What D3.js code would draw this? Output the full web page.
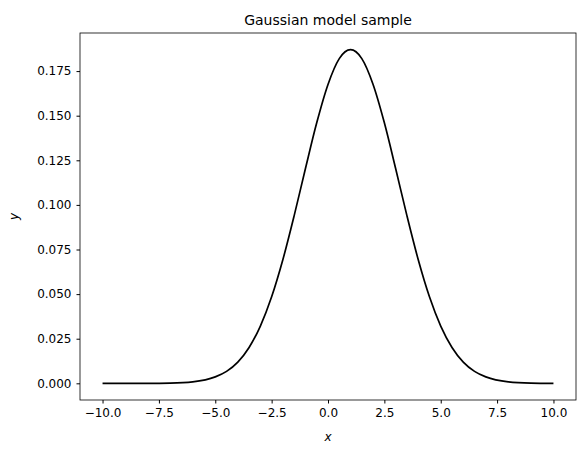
<!DOCTYPE html>
<html><head><meta charset="utf-8">
<script src="https://cdn.jsdelivr.net/npm/d3@7"></script>
<style>body{margin:0;background:#fff}text{font-family:"DejaVu Sans",sans-serif}</style>
</head><body>
<svg id="c" width="585" height="455"></svg>
<script>
const xs = [-10,-9,-8,-7,-6,-5,-4.5,-4,-3.5,-3,-2.5,-2,-1.5,-1,-0.5,0,0.5,1,1.5,2,2.5,3,3.5,4,4.5,5,5.5,6,6.5,7,8,9,10,11,12];
const ys = [0,0.00001,0.00002,0.00016,0.00084,0.0036,0.0067,0.0119,0.0201,0.0321,0.0485,0.0694,0.094,0.1204,0.146,0.1675,0.182,0.187,0.182,0.1675,0.146,0.1204,0.094,0.0694,0.0485,0.0321,0.0201,0.0119,0.0067,0.0036,0.00084,0.00016,0.00002,0.00001,0];
const xTicks = [-10,-7.5,-5,-2.5,0,2.5,5,7.5,10];
const yTicks = [0,0.025,0.05,0.075,0.1,0.125,0.15,0.175];
const pts = xs.map((x,i)=>[x,ys[i]]).filter(p=>p[0]<=10);
const L=80,R=576,T=33,B=400;
const svg=d3.select("#c");
const x=d3.scaleLinear().domain([-11,11]).range([L,R]);
const y=d3.scaleLinear().domain([-0.00935,0.19635]).range([B,T]);
svg.append("g").attr("transform",`translate(0,${B})`)
 .call(d3.axisBottom(x).tickValues(xTicks).tickFormat(d3.format(".1f")).tickSizeOuter(0).tickSize(3.5).tickPadding(5))
 .call(g=>g.selectAll("text").attr("font-size",12).attr("fill","#000").style("font-family","DejaVu Sans"));
svg.append("g").attr("transform",`translate(${L},0)`)
 .call(d3.axisLeft(y).tickValues(yTicks).tickFormat(d3.format(".3f")).tickSizeOuter(0).tickSize(3.5).tickPadding(5))
 .call(g=>g.selectAll("text").attr("font-size",12).attr("fill","#000").style("font-family","DejaVu Sans"));
svg.selectAll(".domain").remove();
svg.append("rect").attr("x",L).attr("y",T).attr("width",R-L).attr("height",B-T).attr("fill","none").attr("stroke","#000").attr("stroke-width",0.8);
svg.append("path").datum(pts).attr("fill","none").attr("stroke","#000").attr("stroke-width",1.7)
 .attr("d",d3.line().x(d=>x(d[0])).y(d=>y(d[1])).curve(d3.curveMonotoneX));
svg.append("text").attr("x",(L+R)/2).attr("y",T-8).attr("text-anchor","middle").attr("font-size",14).text("Gaussian model sample");
svg.append("text").attr("x",(L+R)/2).attr("y",441).attr("text-anchor","middle").attr("font-size",12).attr("font-style","italic").text("x");
svg.append("text").attr("transform",`translate(18,${(T+B)/2}) rotate(-90)`).attr("text-anchor","middle").attr("font-size",12).attr("font-style","italic").text("y");
</script></body></html>
